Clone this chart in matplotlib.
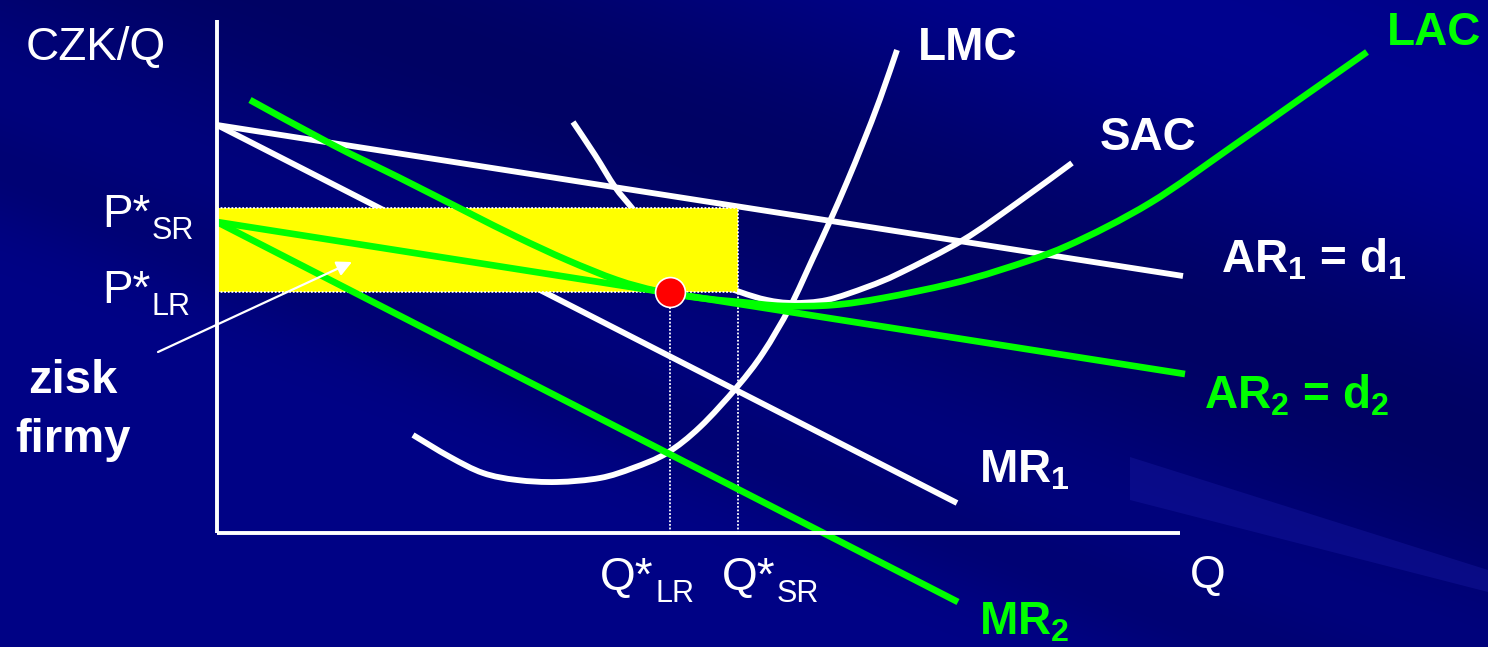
import numpy as np
import matplotlib
matplotlib.use('Agg')
import matplotlib.pyplot as plt
from matplotlib.path import Path
from matplotlib.patches import PathPatch

plt.rcParams['font.family'] = ['Liberation Sans', 'DejaVu Sans']
plt.rcParams['mathtext.fontset'] = 'custom'
plt.rcParams['mathtext.rm'] = 'Liberation Sans'
plt.rcParams['mathtext.bf'] = 'Liberation Sans:bold'
plt.rcParams['mathtext.it'] = 'Liberation Sans:italic'

# --- chart data (Q on x, CZK/Q on y) ---
ar1_q = [0.0, 9.66]
ar1_p = [8.16, 5.14]
mr1_q = [0.0, 7.40]
mr1_p = [8.16, 0.60]
ar2_q = [0.0, 9.68]
ar2_p = [6.22, 3.18]
mr2_q = [0.0, 7.41]
mr2_p = [6.22, -1.38]

lmc_q = [1.96, 2.33, 2.66, 3.00, 3.40, 3.83, 4.16, 4.50, 4.83, 5.20, 5.46,
         5.73, 5.96, 6.13, 6.30, 6.46, 6.63, 6.80]
lmc_p = [1.96, 1.52, 1.20, 1.06, 1.02, 1.10, 1.30, 1.60, 2.12, 2.92, 3.60,
         4.52, 5.50, 6.24, 7.02, 7.80, 8.68, 9.66]

sac_q = [3.56, 3.78, 3.98, 4.15, 4.38, 4.63, 4.93, 5.23, 5.50, 5.76, 6.10,
         6.50, 6.83, 7.46, 8.00, 8.55]
sac_p = [8.22, 7.56, 6.92, 6.50, 5.92, 5.46, 5.06, 4.82, 4.66, 4.60, 4.66,
         4.92, 5.20, 5.86, 6.60, 7.40]

lac_q = [0.33, 1.16, 1.83, 2.50, 3.00, 3.50, 4.00, 4.40, 4.83, 5.23, 5.66,
         6.16, 6.66, 7.33, 7.83, 8.50, 9.33, 10.16, 10.83, 11.50]
lac_p = [8.66, 7.76, 7.10, 6.42, 5.92, 5.46, 5.06, 4.84, 4.70, 4.62, 4.54,
         4.56, 4.70, 4.98, 5.26, 5.74, 6.60, 7.74, 8.68, 9.62]

q_lr, q_sr = 4.53, 5.21
p_lr, p_sr = 4.82, 6.50
q_max, p_max = 9.63, 10.26

WHITE = 'white'
GREEN = '#00ff00'


def smooth_curve(ax, qs, ps, **style):
    # Catmull-Rom through the read points, drawn as cubic Bezier segments
    pts = np.column_stack([qs, ps])
    verts = [pts[0]]
    codes = [Path.MOVETO]
    n = len(pts)
    for i in range(n - 1):
        p0 = pts[max(i - 1, 0)]
        p1 = pts[i]
        p2 = pts[i + 1]
        p3 = pts[min(i + 2, n - 1)]
        verts += [p1 + (p2 - p0) / 6, p2 - (p3 - p1) / 6, p2]
        codes += [Path.CURVE4] * 3
    ax.add_patch(PathPatch(Path(verts, codes), fill=False, capstyle='butt',
                           joinstyle='round', **style))


def label_sub(ax, x, y, main, sub, sub_dx, sub_dy, size=33, sub_size=22):
    # big letter(s) with a lowered subscript, both regular weight
    ax.text(x, y, main, color=WHITE, fontsize=size, ha='left', va='baseline', zorder=9)
    ax.text(x + sub_dx, y + sub_dy, sub, color=WHITE, fontsize=sub_size,
            ha='left', va='baseline', zorder=9)


fig = plt.figure(figsize=(14.88, 6.47), dpi=100)

# background: dark blue with diagonal streaks
W, H = 1488, 647
yy, xx = np.mgrid[0:H, 0:W].astype(float)
t = yy - 0.38 * xx
b = 134 - 34 * np.exp(-((t + 120) / 170) ** 2) - 16 * np.exp(-((t - 170) / 60) ** 2)
b = b + 10 * np.exp(-((t + 420) / 120) ** 2)
b = np.clip(b, 0, 255) / 255
img = np.dstack([np.zeros_like(b), b * 0.02, b])
bg = fig.add_axes([0, 0, 1, 1])
bg.imshow(img, extent=[0, W, H, 0], aspect='auto')
bg.fill([1130, 1488, 1488, 1130], [457, 570, 592, 500], color='#2020b0', alpha=0.3, lw=0)
bg.set_xlim(0, W)
bg.set_ylim(H, 0)
bg.axis('off')

ax = fig.add_axes([0, 0, 1, 1])
ax.patch.set_alpha(0)
ax.set_xlim(-2.17, 12.71)
ax.set_ylim(-2.28, 10.66)
ax.axis('off')

lw_w = 4.2
lw_g = 4.8
kw = dict(solid_capstyle='butt', solid_joinstyle='round')

# white curves
ax.plot(mr1_q, mr1_p, color=WHITE, lw=lw_w, zorder=2, **kw)
smooth_curve(ax, sac_q, sac_p, edgecolor=WHITE, lw=lw_w, zorder=2)
ax.plot(ar1_q, ar1_p, color=WHITE, lw=lw_w, zorder=2, **kw)
smooth_curve(ax, lmc_q, lmc_p, edgecolor=WHITE, lw=lw_w, zorder=2)

# profit rectangle
ax.fill_between([0, q_sr], p_lr, p_sr, color='#ffff00', lw=0, zorder=3)
dot = dict(color=WHITE, lw=1.3, ls=(0, (1, 1)), zorder=4)
ax.plot([0, q_sr], [p_sr, p_sr], **dot)
ax.plot([0, q_sr], [p_lr, p_lr], **dot)
ax.plot([q_sr, q_sr], [0, p_sr], **dot)
ax.plot([q_lr, q_lr], [0, p_lr], **dot)

# green curves
ax.plot(mr2_q, mr2_p, color=GREEN, lw=lw_g, zorder=5, **kw)
ax.plot(ar2_q, ar2_p, color=GREEN, lw=lw_g, zorder=5, **kw)
smooth_curve(ax, lac_q, lac_p, edgecolor=GREEN, lw=lw_g, zorder=5)

# axes
ax.plot([0, 0], [0, p_max], color=WHITE, lw=2.8, zorder=6, solid_capstyle='butt')
ax.plot([0, q_max], [0, 0], color=WHITE, lw=2.8, zorder=6, solid_capstyle='butt')

# equilibrium point
ax.plot([q_lr], [p_lr], 'o', ms=21.5, mfc='#ff0000', mec=WHITE, mew=1.2, zorder=8)

# arrow to profit area
ax.annotate('', xy=(1.35, 5.42), xytext=(-0.59, 3.62),
            arrowprops=dict(arrowstyle='-|>,head_length=0.9,head_width=0.45',
                            color=WHITE, lw=1.6, shrinkA=0, shrinkB=0), zorder=7)

fs = 33
txt = dict(ha='left', va='baseline', fontsize=fs, zorder=9)
ax.text(-1.91, 9.46, 'CZK/Q', color=WHITE, **txt)
label_sub(ax, -1.15, 6.12, 'P*', 'SR', 0.50, -0.24)
label_sub(ax, -1.15, 4.60, 'P*', 'LR', 0.50, -0.24)
ax.text(-1.44, 2.80, 'zisk', color=WHITE, fontsize=34, fontweight='bold',
        ha='center', va='baseline')
ax.text(-1.44, 1.62, 'firmy', color=WHITE, fontsize=34, fontweight='bold',
        ha='center', va='baseline')
ax.text(7.01, 9.46, 'LMC', color=WHITE, fontweight='bold', **txt)
ax.text(8.83, 7.66, 'SAC', color=WHITE, fontweight='bold', **txt)
ax.text(11.70, 9.76, 'LAC', color=GREEN, fontweight='bold', **txt)
ax.text(10.04, 5.20, r'AR$_\mathbf{1}$ = d$_\mathbf{1}$', color=WHITE, fontweight='bold', **txt)
ax.text(9.87, 2.48, r'AR$_\mathbf{2}$ = d$_\mathbf{2}$', color=GREEN, fontweight='bold', **txt)
ax.text(7.62, 1.00, r'MR$_\mathbf{1}$', color=WHITE, fontweight='bold', **txt)
ax.text(7.62, -2.04, r'MR$_\mathbf{2}$', color=GREEN, fontweight='bold', **txt)
ax.text(9.73, -1.10, 'Q', color=WHITE, **txt)
label_sub(ax, 3.83, -1.14, 'Q*', 'LR', 0.55, -0.24)
label_sub(ax, 5.05, -1.14, 'Q*', 'SR', 0.55, -0.24)

plt.savefig('out.png', dpi=100)
